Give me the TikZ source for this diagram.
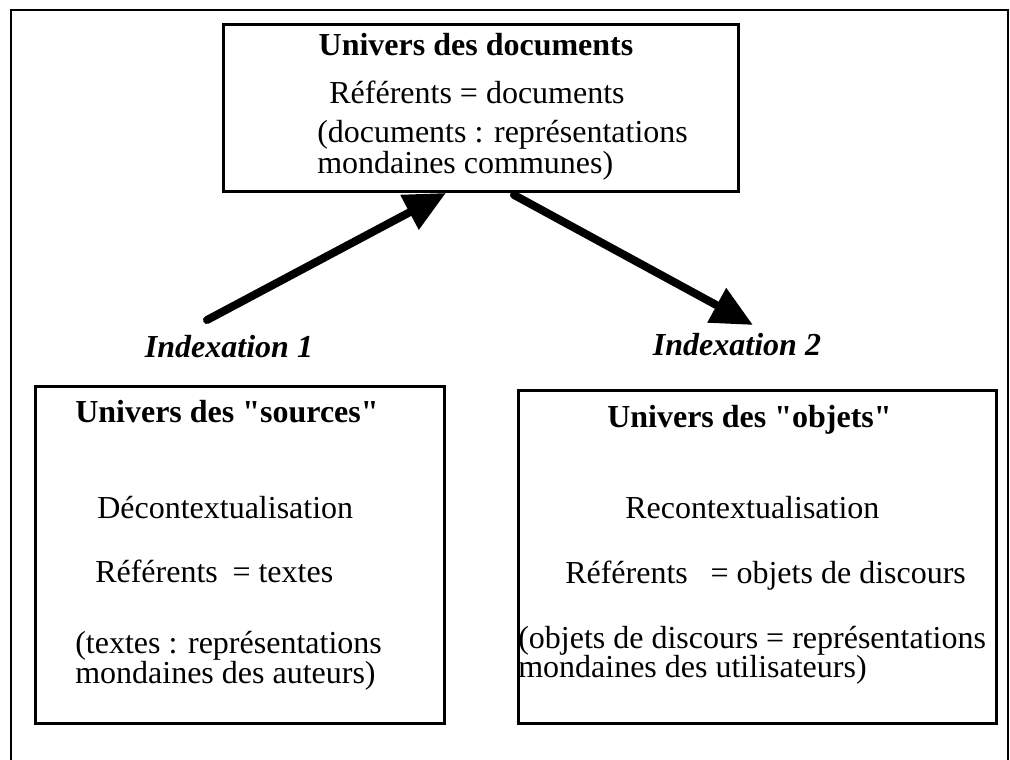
\documentclass[tikz,border=0pt]{standalone}
\usepackage{fontspec}
\setmainfont{Liberation Serif}
\usetikzlibrary{arrows.meta,calc}
\newcommand\strq{\XeTeXglyph\XeTeXcharglyph"22\relax}
\begin{document}
\begin{tikzpicture}[x=0.75pt,y=-0.75pt,
  frameline/.style={line width=2.2pt},
  boxnode/.style={draw,line width=2.2pt,inner sep=0pt,anchor=north west},
  txt/.style={inner sep=0pt,font=\fontsize{24}{28}\selectfont},
  ttl/.style={txt,font=\fontsize{24}{28}\selectfont\bfseries},
  idx/.style={txt,font=\fontsize{24}{28}\selectfont\bfseries\itshape},
  bigarrow/.style={line width=6pt,line cap=round,-{Triangle[length=31pt,width=28pt]}}]
\useasboundingbox[fill=white] (0,0) rectangle (1010,760);
% outer frame
\draw[frameline] (11,760) -- (11,10) -- (1008,10) -- (1008,760);
% boxes
\node[boxnode,minimum width=386.25pt,minimum height=125.25pt] (top) at (222,23) {};
\node[boxnode,minimum width=306.75pt,minimum height=252.75pt] (src) at (34,385) {};
\node[boxnode,minimum width=358.5pt,minimum height=249.75pt] (obj) at (517,389) {};
% top box texts
\node[ttl,anchor=base] (t1) at (476,55) {Univers des documents};
\node[txt,anchor=base] (t2) at (477,103) {Référents = documents};
\node[txt,anchor=base west] (t3) at (317,142) {(documents : représentations};
\node[txt,anchor=base west] (t4) at (317,173) {mondaines communes)};
% left box texts
\node[ttl,anchor=base west] (s1) at (75,422) {Univers des \strq sources\strq};
\node[txt,anchor=base west] (s2) at (97,518) {Décontextualisation};
\node[txt,anchor=base west] (s3) at (95,582) {Référents\hspace{11pt}= textes};
\node[txt,anchor=base west] (s4) at (75,653) {(textes : représentations};
\node[txt,anchor=base west] (s5) at (75,683) {mondaines des auteurs)};
% right box texts
\node[ttl,anchor=base west] (o1) at (607,427) {Univers des \strq objets\strq};
\node[txt,anchor=base west] (o2) at (625,518) {Recontextualisation};
\node[txt,anchor=base west] (o3) at (565,583) {Référents\hspace{17pt}= objets de discours};
\node[txt,anchor=base west] (o4) at (518,648) {(objets de discours = représentations};
\node[txt,anchor=base west] (o5) at (518,677) {mondaines des utilisateurs)};
% labels
\node[idx,anchor=base] (i1) at (229,357) {Indexation 1};
\node[idx,anchor=base] (i2) at (737,355) {Indexation 2};
% arrows
\coordinate (a1s) at (207,320);
\coordinate (a2e) at (753,325);
\draw[bigarrow] (a1s) -- ($(top.south)+(-35,0)$);
\draw[bigarrow] ($(top.south)+(33,2)$) -- (a2e);
\end{tikzpicture}
\end{document}
